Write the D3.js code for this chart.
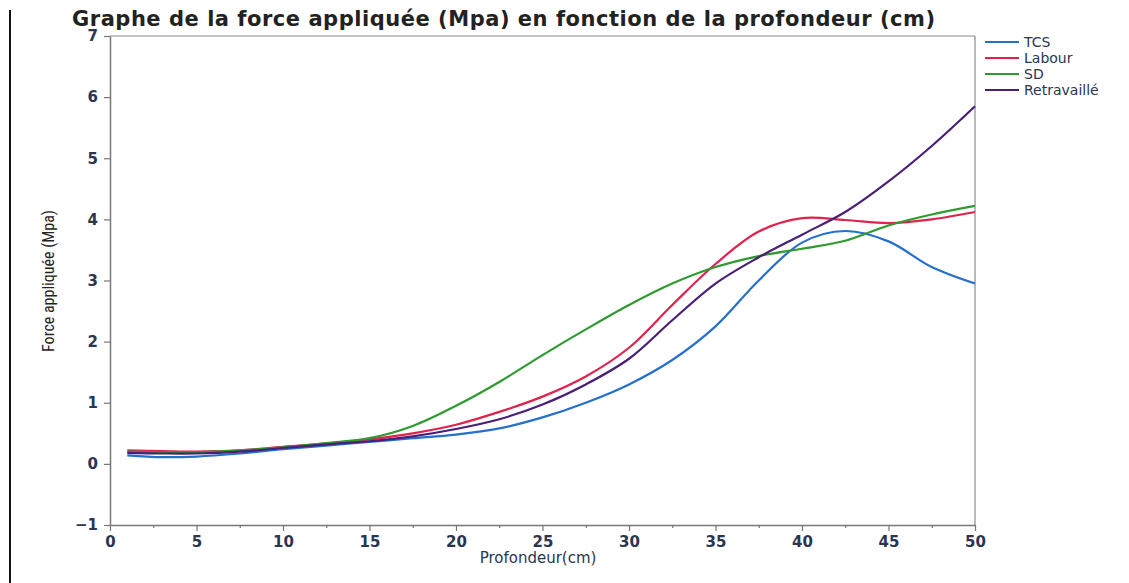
<!DOCTYPE html>
<html lang="fr">
<head>
<meta charset="utf-8">
<title>Graphe de la force appliquée</title>
<script src="https://d3js.org/d3.v7.min.js"></script>
<style>
  body { margin: 0; background: #fff; }
  text { font-family: "DejaVu Sans", sans-serif; }
</style>
</head>
<body>
<div id="chart"></div>
<script>
// profondeur (cm)
var depth = [1, 3, 5, 7.5, 10, 12.5, 15, 17.5, 20, 22.5, 25, 27.5, 30, 32.5, 35, 37.5, 40, 42.5, 45, 47.5, 50];
var tcs = [0.14, 0.11, 0.12, 0.17, 0.24, 0.30, 0.36, 0.42, 0.48, 0.58, 0.76, 1.00, 1.30, 1.70, 2.25, 3.00, 3.62, 3.81, 3.64, 3.22, 2.95];
var labour = [0.22, 0.21, 0.20, 0.22, 0.28, 0.33, 0.40, 0.50, 0.64, 0.85, 1.10, 1.43, 1.90, 2.60, 3.27, 3.80, 4.02, 3.99, 3.94, 4.00, 4.12];
var sd = [0.20, 0.19, 0.19, 0.22, 0.27, 0.34, 0.42, 0.62, 0.95, 1.34, 1.78, 2.20, 2.60, 2.95, 3.22, 3.40, 3.52, 3.65, 3.90, 4.08, 4.22];
var retravaille = [0.18, 0.17, 0.17, 0.20, 0.26, 0.32, 0.37, 0.45, 0.57, 0.73, 0.97, 1.30, 1.72, 2.35, 2.95, 3.38, 3.75, 4.12, 4.62, 5.20, 5.85];

var names = ["TCS", "Labour", "SD", "Retravaillé"];
var colors = ["#2470cc", "#e0224c", "#2f9a30", "#4a1f78"];
var seriesValues = [tcs, labour, sd, retravaille];
var xTicks = [0, 5, 10, 15, 20, 25, 30, 35, 40, 45, 50];
var yTicks = [-1, 0, 1, 2, 3, 4, 5, 6, 7];

var W = 1129, H = 583;
var pLeft = 110, pRight = 975, pTop = 36, pBottom = 525;

var svg = d3.select("#chart").append("svg")
  .attr("width", W).attr("height", H);

// bord noir du scan
svg.append("line").attr("x1", 10).attr("x2", 10).attr("y1", 10).attr("y2", H)
  .attr("stroke", "#111").attr("stroke-width", 2);

var x = d3.scaleLinear().domain([0, 50]).range([pLeft, pRight]);
var y = d3.scaleLinear().domain([-1, 7]).range([pBottom, pTop]);

// cadre
svg.append("line").attr("x1", pLeft).attr("x2", pRight).attr("y1", pTop).attr("y2", pTop)
  .attr("stroke", "#8a8a8a").attr("stroke-width", 1.2);
svg.append("line").attr("x1", pRight).attr("x2", pRight).attr("y1", pTop).attr("y2", pBottom)
  .attr("stroke", "#8a8a8a").attr("stroke-width", 1.2);

var xAxis = svg.append("g").attr("transform", "translate(0," + pBottom + ")")
  .call(d3.axisBottom(x).tickValues(xTicks).tickSize(6).tickSizeOuter(0));
var xMinor = svg.append("g").attr("transform", "translate(0," + pBottom + ")")
  .call(d3.axisBottom(x).tickValues(d3.range(2.5, 50, 5)).tickSize(3).tickFormat("").tickSizeOuter(0));
xMinor.select(".domain").remove();

var yAxis = svg.append("g").attr("transform", "translate(" + pLeft + ",0)")
  .call(d3.axisLeft(y).tickValues(yTicks).tickSize(6).tickSizeOuter(0));

svg.selectAll(".domain").attr("stroke", "#777").attr("stroke-width", 1.5);
svg.selectAll(".tick line").attr("stroke", "#777").attr("stroke-width", 1.2);
xAxis.selectAll(".tick text").attr("dy", "0.85em")
  .style("font-size", "15px").style("font-weight", "bold").attr("fill", "#2b3550");
yAxis.selectAll(".tick text").attr("dx", "-3px")
  .style("font-size", "15px").style("font-weight", "bold").attr("fill", "#2b3550");

// courbes
var line = d3.line()
  .x(function (d) { return x(d[0]); })
  .y(function (d) { return y(d[1]); })
  .curve(d3.curveCatmullRom.alpha(0.5));

seriesValues.forEach(function (vals, i) {
  svg.append("path")
    .datum(depth.map(function (dv, j) { return [dv, vals[j]]; }))
    .attr("fill", "none")
    .attr("stroke", colors[i])
    .attr("stroke-width", 2.2)
    .attr("d", line);
});

// titre
svg.append("text").attr("x", 72).attr("y", 26)
  .style("font-size", "21px").style("font-weight", "bold").attr("fill", "#222")
  .attr("textLength", 863).attr("lengthAdjust", "spacing")
  .text("Graphe de la force appliquée (Mpa)  en fonction de la profondeur (cm)");

// titres des axes
svg.append("text").attr("x", 538).attr("y", 563).attr("text-anchor", "middle")
  .style("font-size", "15px").attr("fill", "#2b3550")
  .text("Profondeur(cm)");
svg.append("text")
  .attr("transform", "translate(54,281) rotate(-90)")
  .attr("text-anchor", "middle")
  .style("font-family", "'Liberation Sans Narrow', 'Roboto Condensed', sans-serif")
  .style("font-size", "16px").attr("fill", "#222")
  .text("Force appliquée (Mpa)");

// légende
var legend = svg.append("g").attr("transform", "translate(985,42)");
names.forEach(function (n, i) {
  var g = legend.append("g").attr("transform", "translate(0," + (i * 16) + ")");
  g.append("line").attr("x1", 0).attr("x2", 34).attr("y1", 0).attr("y2", 0)
    .attr("stroke", colors[i]).attr("stroke-width", 2);
  g.append("text").attr("x", 39).attr("y", 5)
    .style("font-size", "14px").attr("fill", "#2b3550").text(n);
});
</script>
</body>
</html>
